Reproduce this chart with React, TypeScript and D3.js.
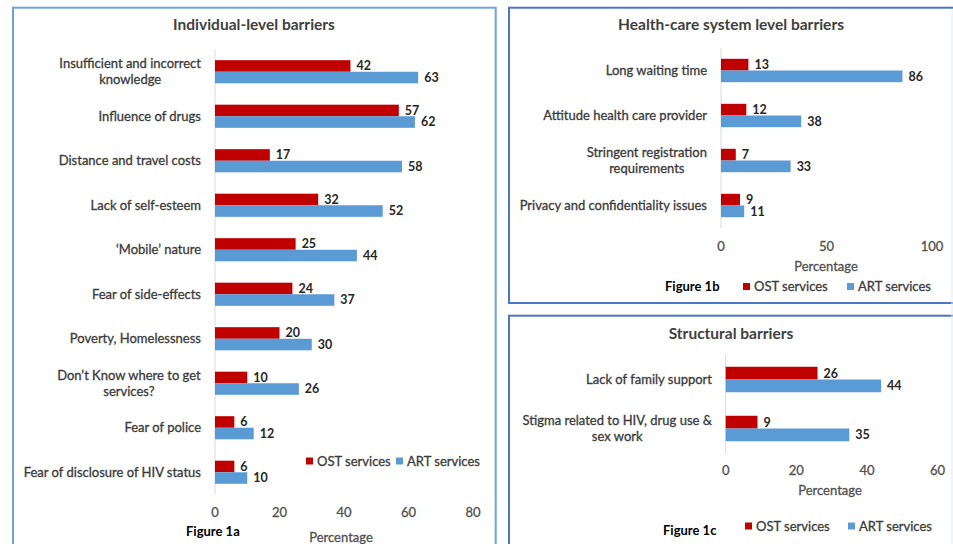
import React from 'react';
import * as d3 from 'd3';

const RED = '#c00000';
const BLUE = '#5b9bd5';
const FONT = 'Lato, "Liberation Sans", sans-serif';

const seriesNames = ['OST services', 'ART services'];

const indCategories = [
  'Insufficient and incorrect\nknowledge',
  'Influence of drugs',
  'Distance and travel costs',
  'Lack of self-esteem',
  '\u2018Mobile\u2019 nature',
  'Fear of side-effects',
  'Poverty, Homelessness',
  'Don\u2019t Know where to get\nservices?',
  'Fear of police',
  'Fear of disclosure of HIV status',
];
const indOST = [42, 57, 17, 32, 25, 24, 20, 10, 6, 6];
const indART = [63, 62, 58, 52, 44, 37, 30, 26, 12, 10];
const indTicks = [0, 20, 40, 60, 80];

const hcCategories = [
  'Long waiting time',
  'Attitude health care provider',
  'Stringent registration\nrequirements',
  'Privacy and confidentiality issues',
];
const hcOST = [13, 12, 7, 9];
const hcART = [86, 38, 33, 11];
const hcTicks = [0, 50, 100];

const stCategories = [
  'Lack of family support',
  'Stigma related to HIV, drug use &\nsex work',
];
const stOST = [26, 9];
const stART = [44, 35];
const stTicks = [0, 20, 40, 60];

let ctx: CanvasRenderingContext2D | null = null;
function measure(text: string, font: string): number {
  if (!ctx) {
    const c = document.createElement('canvas');
    ctx = c.getContext('2d');
  }
  if (!ctx) return text.length * 6;
  ctx.font = font;
  return ctx.measureText(text).width;
}

type PanelProps = {
  title: string;
  titleX: number;
  titleY: number;
  cats: string[];
  ost: number[];
  art: number[];
  ticks: number[];
  xRange: [number, number];
  yRange: [number, number];
  labelRight: number;
  tickY: number;
  pctX: number;
  pctY: number;
  figLabel: string;
  figX: number;
  figY: number;
  legX: number;
  legX2: number;
  legY: number;
};

const thick = { stroke: 'currentColor', strokeWidth: 0.3 } as const;

function Panel(p: PanelProps) {
  const x = d3.scaleLinear().domain([0, p.ticks[p.ticks.length - 1]]).range(p.xRange);
  const y = d3.scaleBand<string>().domain(p.cats).range(p.yRange).paddingInner(0.48).paddingOuter(0.24);
  const sub = d3.scaleBand<string>().domain(seriesNames).range([0, y.bandwidth()]);
  const labelFont = `13px ${FONT}`;
  const series = [p.ost, p.art];
  const colors = [RED, BLUE];
  return (
    <g>
      <text x={p.titleX} y={p.titleY} textAnchor="middle" fontFamily={FONT} fontSize={15.5} fontWeight="bold" fill="#404040">
        {p.title}
      </text>
      <line x1={x(0)} x2={x(0)} y1={p.yRange[0]} y2={p.yRange[1]} stroke="#d9d9d9" strokeWidth={1} />
      {p.cats.map((c, i) => {
        const lines = c.split('\n');
        const maxW = Math.max(...lines.map((l) => measure(l, labelFont)));
        const cy = (y(c) as number) + y.bandwidth() / 2;
        const cx = p.labelRight - maxW / 2;
        const lh = 16;
        return (
          <g key={c}>
            {lines.map((l, j) => (
              <text
                key={j}
                x={lines.length > 1 ? cx : p.labelRight}
                y={cy + (j - (lines.length - 1) / 2) * lh}
                dy="0.35em"
                textAnchor={lines.length > 1 ? 'middle' : 'end'}
                fontFamily={FONT}
                fontSize={13}
                fill="#3a3a3a"
                color="#3a3a3a"
                {...thick}
              >
                {l}
              </text>
            ))}
            {series.map((s, k) => {
              const by = (y(c) as number) + (sub(seriesNames[k]) as number);
              return (
                <g key={k}>
                  <rect x={x(0)} y={by} width={x(s[i]) - x(0)} height={sub.bandwidth()} fill={colors[k]} />
                  <text
                    x={x(s[i]) + 6}
                    y={by + sub.bandwidth() / 2}
                    dy="0.35em"
                    fontFamily={FONT}
                    fontSize={12.5}
                    fontWeight="bold"
                    fill="#262626"
                  >
                    {s[i]}
                  </text>
                </g>
              );
            })}
          </g>
        );
      })}
      {p.ticks.map((t) => (
        <text key={t} x={x(t)} y={p.tickY} dy="0.35em" textAnchor="middle" fontFamily={FONT} fontSize={13} fill="#505050" color="#505050" {...thick}>
          {t}
        </text>
      ))}
      <text x={p.pctX} y={p.pctY} dy="0.35em" textAnchor="middle" fontFamily={FONT} fontSize={13} fill="#505050" color="#505050" {...thick}>
        Percentage
      </text>
      <text x={p.figX} y={p.figY} dy="0.35em" fontFamily={FONT} fontSize={13} fontWeight="bold" fill="#000">
        {p.figLabel}
      </text>
      {seriesNames.map((n, k) => {
        const lx = k === 0 ? p.legX : p.legX2;
        return (
          <g key={n}>
            <rect x={lx} y={p.legY - 3.5} width={7} height={7} fill={colors[k]} />
            <text x={lx + 11} y={p.legY} dy="0.35em" fontFamily={FONT} fontSize={13} fill="#3a3a3a" color="#3a3a3a" {...thick}>
              {n}
            </text>
          </g>
        );
      })}
    </g>
  );
}

export default function App() {
  return (
    <svg width={953} height={544} style={{ position: 'absolute', left: 0, top: 0, background: '#fff' }}>
      <rect x={0} y={0} width={953} height={544} fill="#fff" />
      <rect x={13} y={7.7} width={482.7} height={560} fill="none" stroke="#6fa3d8" strokeWidth={2} />
      <rect x={509} y={7.7} width={460} height={295.3} fill="none" stroke="#4a77c8" strokeWidth={2} />
      <rect x={509} y={315.7} width={460} height={260} fill="none" stroke="#4a77c8" strokeWidth={2} />
      <line x1={952} x2={952} y1={10} y2={544} stroke="#e3eaf5" strokeWidth={1} />
      <Panel
        title="Individual-level barriers"
        titleX={254}
        titleY={30}
        cats={indCategories}
        ost={indOST}
        art={indART}
        ticks={indTicks}
        xRange={[215, 473]}
        yRange={[49.5, 494.5]}
        labelRight={201}
        tickY={512}
        pctX={341}
        pctY={537}
        figLabel="Figure 1a"
        figX={186}
        figY={531}
        legX={306}
        legX2={396}
        legY={461}
      />
      <Panel
        title="Health-care system level barriers"
        titleX={731}
        titleY={30}
        cats={hcCategories}
        ost={hcOST}
        art={hcART}
        ticks={hcTicks}
        xRange={[721, 932]}
        yRange={[48, 228]}
        labelRight={707}
        tickY={246.5}
        pctX={826}
        pctY={266.5}
        figLabel="Figure 1b"
        figX={665}
        figY={286.5}
        legX={743}
        legX2={847}
        legY={286.5}
      />
      <Panel
        title="Structural barriers"
        titleX={731}
        titleY={339}
        cats={stCategories}
        ost={stOST}
        art={stART}
        ticks={stTicks}
        xRange={[725.7, 937.6]}
        yRange={[355, 453]}
        labelRight={712}
        tickY={470.5}
        pctX={830}
        pctY={490.5}
        figLabel="Figure 1c"
        figX={663}
        figY={530.5}
        legX={745}
        legX2={848}
        legY={526}
      />
    </svg>
  );
}
